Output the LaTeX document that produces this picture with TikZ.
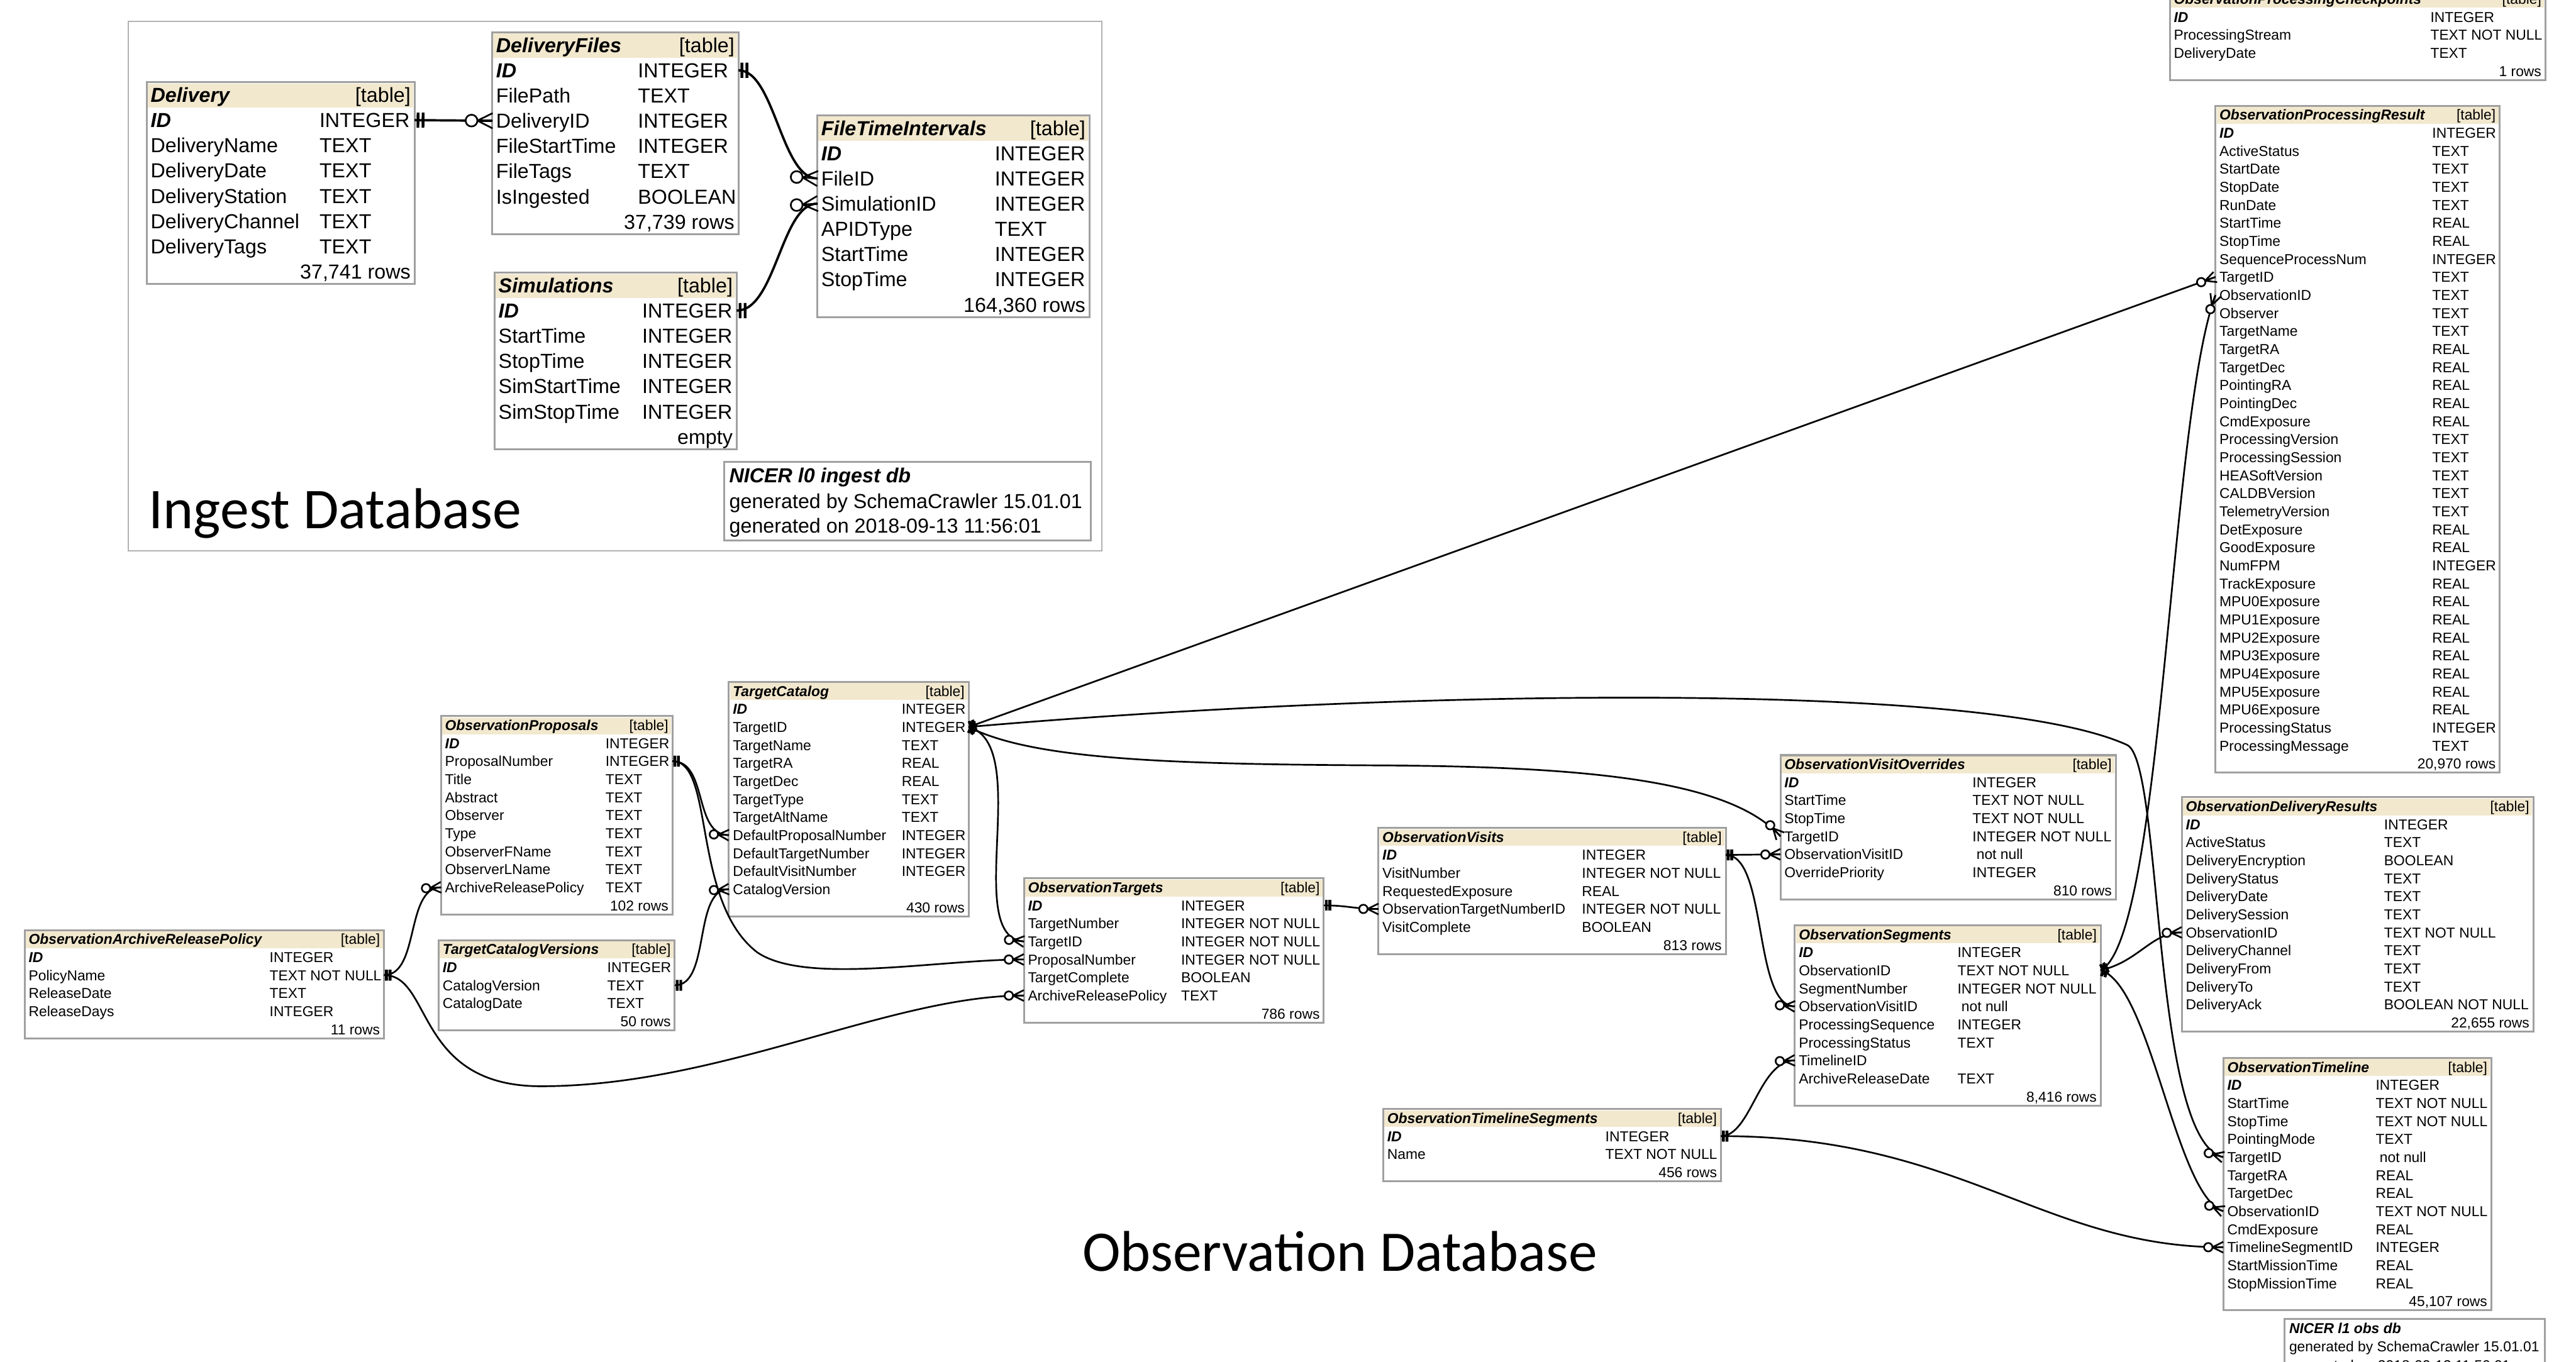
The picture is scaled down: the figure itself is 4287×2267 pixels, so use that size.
\documentclass[tikz,border=0pt]{standalone}
\usepackage{fontspec}
\setmainfont{Liberation Sans}
\newfontfamily\calfont{Carlito}
\usetikzlibrary{decorations.markings}
\definecolor{headfill}{RGB}{242,232,206}
\definecolor{tabgray}{RGB}{160,160,160}

\tikzset{
  rowh/.store in=\rowh, rowh=30,
  tabfont/.store in=\tabfont, tabfont=\fontsize{6.8}{8}\selectfont,
  ers/.store in=\ers, ers=1,
  ingest/.style={rowh=42, tabfont=\fontsize{9.6}{11}\selectfont, ers=1.4},
  tabline/.style={draw=tabgray, line width=0.9pt},
  rel/.style={draw, line width=0.8pt, postaction={decorate}, decoration={markings,
    mark=at position 0 with {\begin{scope}[scale=\ers]
      \draw[line width=1.3pt] (4,-9) -- (4,9) (10,-9) -- (10,9);\end{scope}},
    mark=at position -0.6pt with {\begin{scope}[scale=\ers]
      \draw[line width=0.8pt] (-16,0) -- (2,9) (-16,0) -- (2,-9) (-16,0) -- (2,0);
      \filldraw[fill=white, line width=0.8pt] (-23,0) circle (7);\end{scope}}}},
}

% table: name, x, y, width, type column, title, rows, footer
\newcommand{\dbtable}[8]{%
  \fill[headfill] (#2+2,#3+2) rectangle (#2+#4-2,#3+\rowh);
  \node[anchor=base west, inner sep=0, font=\tabfont\bfseries\itshape] (#1) at (#2+6,#3+0.79*\rowh) {#6};
  \node[anchor=base east, inner sep=0, font=\tabfont] at (#2+#4-6,#3+0.79*\rowh) {[table]};
  \foreach \fld/\typ [count=\i] in {#7} {
    \ifnum\i=1\relax\def\rowfont{\bfseries\itshape}\else\def\rowfont{}\fi
    \node[anchor=base west, inner sep=0, font=\tabfont\rowfont] (#1-\i) at (#2+6,#3+\i*\rowh+0.79*\rowh) {\fld};
    \node[anchor=base west, inner sep=0, font=\tabfont] at (#2+#5,#3+\i*\rowh+0.79*\rowh) {\typ};
    \coordinate (#1-\i-l) at (#2,#3+\i*\rowh+0.5*\rowh);
    \coordinate (#1-\i-r) at (#2+#4,#3+\i*\rowh+0.5*\rowh);
    \xdef\lastrow{\i}
  }
  \node[anchor=base east, inner sep=0, font=\tabfont] at (#2+#4-6,#3+\lastrow*\rowh+1.79*\rowh) {#8};
  \draw[tabline] (#2,#3) rectangle (#2+#4,#3+\lastrow*\rowh+2*\rowh);
}

\begin{document}
\begin{tikzpicture}[x=0.01cm, y=-0.01cm]
\useasboundingbox (0,0) rectangle (4287,2267);
\clip (0,0) rectangle (4287,2267);
\fill[white] (0,0) rectangle (4287,2267);

% Ingest database
\begin{scope}[ingest]
  \draw[black!30, line width=0.6pt] (213,36) rectangle (1834,917);
  \dbtable{dl}{244}{137}{446}{287}{Delivery}{ID/INTEGER, DeliveryName/TEXT, DeliveryDate/TEXT,
    DeliveryStation/TEXT, DeliveryChannel/TEXT, DeliveryTags/TEXT}{37,741 rows}
  \dbtable{df}{819}{54}{410}{242}{DeliveryFiles}{ID/INTEGER, FilePath/TEXT, DeliveryID/INTEGER,
    FileStartTime/INTEGER, FileTags/TEXT, IsIngested/BOOLEAN}{37,739 rows}
  \dbtable{fti}{1360}{192}{453}{295}{FileTimeIntervals}{ID/INTEGER, FileID/INTEGER, SimulationID/INTEGER,
    APIDType/TEXT, StartTime/INTEGER, StopTime/INTEGER}{164,360 rows}
  \dbtable{sim}{823}{454}{403}{245}{Simulations}{ID/INTEGER, StartTime/INTEGER, StopTime/INTEGER,
    SimStartTime/INTEGER, SimStopTime/INTEGER}{empty}

  % ingest db info
  \draw[tabline] (1205,769) rectangle (1815,900);
  \node[anchor=base west, inner sep=0, font=\tabfont\bfseries\itshape] (l0db) at (1213,803) {NICER l0 ingest db};
  \node[anchor=base west, inner sep=0, font=\tabfont] (l0gen) at (1213,846) {generated by SchemaCrawler 15.01.01};
  \node[anchor=base west, inner sep=0, font=\tabfont] (l0date) at (1213,887) {generated on 2018-09-13 11:56:01};

  % ingest relations
  \draw[rel, line width=1.1pt] (dl-1-r) -- (df-3-l);
  \draw[rel, line width=1.1pt] (df-1-r) .. controls +(60,0) and +(-60,0) .. (fti-2-l);
  \draw[rel, line width=1.1pt] (sim-1-r) .. controls +(65,0) and +(-60,0) .. (fti-3-l);
\end{scope}

\node[anchor=base west, inner sep=0, font=\calfont\fontsize{27.3}{30}\selectfont] (ingestlbl) at (247,880) {Ingest Database};

% Observation database
\dbtable{opc}{3611}{-17}{625}{433}{ObservationProcessingCheckpoints}{ID/INTEGER,
  ProcessingStream/TEXT NOT NULL, DeliveryDate/TEXT}{1 rows}
\dbtable{opr}{3687}{176}{473}{360}{ObservationProcessingResult}{ID/INTEGER, ActiveStatus/TEXT,
  StartDate/TEXT, StopDate/TEXT, RunDate/TEXT, StartTime/REAL, StopTime/REAL,
  SequenceProcessNum/INTEGER, TargetID/TEXT, ObservationID/TEXT, Observer/TEXT, TargetName/TEXT,
  TargetRA/REAL, TargetDec/REAL, PointingRA/REAL, PointingDec/REAL, CmdExposure/REAL,
  ProcessingVersion/TEXT, ProcessingSession/TEXT, HEASoftVersion/TEXT, CALDBVersion/TEXT,
  TelemetryVersion/TEXT, DetExposure/REAL, GoodExposure/REAL, NumFPM/INTEGER, TrackExposure/REAL,
  MPU0Exposure/REAL, MPU1Exposure/REAL, MPU2Exposure/REAL, MPU3Exposure/REAL, MPU4Exposure/REAL,
  MPU5Exposure/REAL, MPU6Exposure/REAL, ProcessingStatus/INTEGER, ProcessingMessage/TEXT}{20,970 rows}
\dbtable{odr}{3631}{1327}{585}{336}{ObservationDeliveryResults}{ID/INTEGER, ActiveStatus/TEXT,
  DeliveryEncryption/BOOLEAN, DeliveryStatus/TEXT, DeliveryDate/TEXT, DeliverySession/TEXT,
  ObservationID/TEXT NOT NULL, DeliveryChannel/TEXT, DeliveryFrom/TEXT, DeliveryTo/TEXT,
  DeliveryAck/BOOLEAN NOT NULL}{22,655 rows}
\dbtable{otl}{3700}{1761}{446}{253}{ObservationTimeline}{ID/INTEGER, StartTime/TEXT NOT NULL,
  StopTime/TEXT NOT NULL, PointingMode/TEXT, TargetID/{\ not null}, TargetRA/REAL, TargetDec/REAL,
  ObservationID/TEXT NOT NULL, CmdExposure/REAL, TimelineSegmentID/INTEGER, StartMissionTime/REAL,
  StopMissionTime/REAL}{45,107 rows}
\dbtable{ovo}{2963}{1257}{558}{319}{ObservationVisitOverrides}{ID/INTEGER, StartTime/TEXT NOT NULL,
  StopTime/TEXT NOT NULL, TargetID/INTEGER NOT NULL, ObservationVisitID/{\ not null},
  OverridePriority/INTEGER}{810 rows}
\dbtable{ov}{2294}{1378}{578}{338}{ObservationVisits}{ID/INTEGER, VisitNumber/INTEGER NOT NULL,
  RequestedExposure/REAL, ObservationTargetNumberID/INTEGER NOT NULL, VisitComplete/BOOLEAN}{813 rows}
\dbtable{os}{2987}{1540}{509}{270}{ObservationSegments}{ID/INTEGER, ObservationID/TEXT NOT NULL,
  SegmentNumber/INTEGER NOT NULL, ObservationVisitID/{\ not null}, ProcessingSequence/INTEGER,
  ProcessingStatus/TEXT, TimelineID/{}, ArchiveReleaseDate/TEXT}{8,416 rows}
\dbtable{ots}{2302}{1846}{562}{369}{ObservationTimelineSegments}{ID/INTEGER, Name/TEXT NOT NULL}{456 rows}
\dbtable{otg}{1704}{1462}{499}{261}{ObservationTargets}{ID/INTEGER, TargetNumber/INTEGER NOT NULL,
  TargetID/INTEGER NOT NULL, ProposalNumber/INTEGER NOT NULL, TargetComplete/BOOLEAN,
  ArchiveReleasePolicy/TEXT}{786 rows}
\dbtable{tc}{1213}{1135}{399}{287}{TargetCatalog}{ID/INTEGER, TargetID/INTEGER, TargetName/TEXT,
  TargetRA/REAL, TargetDec/REAL, TargetType/TEXT, TargetAltName/TEXT, DefaultProposalNumber/INTEGER,
  DefaultTargetNumber/INTEGER, DefaultVisitNumber/INTEGER, CatalogVersion/{}}{430 rows}
\dbtable{op}{734}{1192}{385}{273}{ObservationProposals}{ID/INTEGER, ProposalNumber/INTEGER, Title/TEXT,
  Abstract/TEXT, Observer/TEXT, Type/TEXT, ObserverFName/TEXT, ObserverLName/TEXT,
  ArchiveReleasePolicy/TEXT}{102 rows}
\dbtable{tcv}{730}{1565}{393}{280}{TargetCatalogVersions}{ID/INTEGER, CatalogVersion/TEXT,
  CatalogDate/TEXT}{50 rows}
\dbtable{oarp}{41}{1548}{598}{407}{ObservationArchiveReleasePolicy}{ID/INTEGER,
  PolicyName/TEXT NOT NULL, ReleaseDate/TEXT, ReleaseDays/INTEGER}{11 rows}

% obs db info
\draw[tabline] (3802,2195) rectangle (4235,2300);
\node[anchor=base west, inner sep=0, font=\tabfont\bfseries\itshape] (l1db) at (3809,2219) {NICER l1 obs db};
\node[anchor=base west, inner sep=0, font=\tabfont] (l1gen) at (3809,2250) {generated by SchemaCrawler 15.01.01};
\node[anchor=base west, inner sep=0, font=\tabfont] (l1date) at (3809,2281) {generated on 2018-09-13 11:56:01};

\node[anchor=base west, inner sep=0, font=\calfont\fontsize{27.2}{30}\selectfont] (obslbl) at (1801,2116) {Observation Database};

% target catalog relations
\draw[rel] (tc-2-r) -- (opr-9-l);
\draw[rel] (tc-2-r) .. controls (2300,1150) and (3300,1130) .. (3540,1240)
  .. controls (3600,1268) and (3580,1900) .. (otl-5-l);
\draw[rel] (tc-2-r) .. controls (1720,1265) and (1950,1272) .. (2300,1274)
  .. controls (2650,1276) and (2880,1300) .. (ovo-4-l);
\draw[rel] (tc-2-r) .. controls (1720,1240) and (1600,1560) .. (otg-3-l);

% segment relations
\draw[rel] (os-2-r) .. controls (3600,1560) and (3610,700) .. (opr-10-l);
\draw[rel] (os-2-r) .. controls (3560,1600) and (3580,1552) .. (odr-7-l);
\draw[rel] (os-2-r) .. controls (3580,1640) and (3620,1990) .. (otl-8-l);

% visits, targets, timeline segments
\draw[rel] (ov-1-r) -- (ovo-5-l);
\draw[rel] (ov-1-r) .. controls +(70,0) and +(-70,0) .. (os-4-l);
\draw[rel] (otg-1-r) .. controls +(40,0) and +(-40,0) .. (ov-4-l);
\draw[rel] (ots-1-r) .. controls +(50,0) and +(-60,0) .. (os-7-l);
\draw[rel] (ots-1-r) .. controls +(400,0) and +(-300,0) .. (otl-10-l);

% proposals, catalog versions, release policy
\draw[rel] (op-2-r) .. controls +(60,0) and +(-60,0) .. (tc-8-l);
\draw[rel] (op-2-r) .. controls (1190,1267) and (1150,1500) .. (1260,1585)
  .. controls (1340,1640) and (1560,1597) .. (otg-4-l);
\draw[rel] (tcv-2-r) .. controls +(60,0) and +(-60,0) .. (tc-11-l);
\draw[rel] (oarp-2-r) .. controls +(60,0) and +(-60,0) .. (op-9-l);
\draw[rel] (oarp-2-r) .. controls (720,1623) and (690,1808) .. (900,1808)
  .. controls (1200,1808) and (1480,1657) .. (otg-6-l);
\end{tikzpicture}
\end{document}
